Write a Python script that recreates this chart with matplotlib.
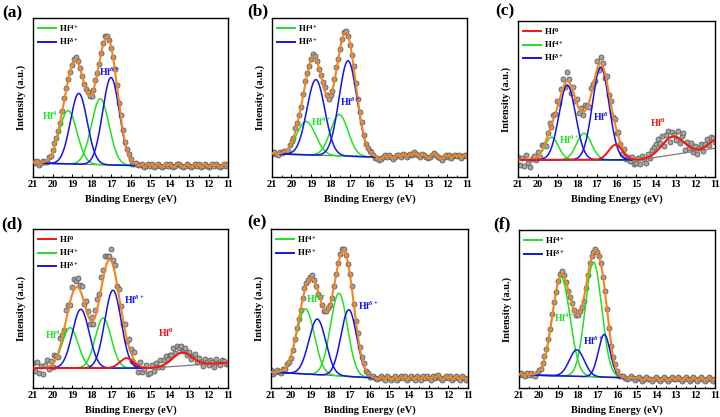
"""Hf 4f XPS fits, six samples (a)-(f), 2x3 grid."""
import matplotlib

matplotlib.use("Agg")
import matplotlib.pyplot as plt
from matplotlib.lines import Line2D
from matplotlib.ticker import MultipleLocator
import numpy as np

plt.rcParams["font.family"] = ["Liberation Serif", "DejaVu Serif"]
plt.rcParams["font.weight"] = "bold"
plt.rcParams["mathtext.fontset"] = "custom"
plt.rcParams["mathtext.rm"] = "Liberation Serif:bold"
plt.rcParams["mathtext.bf"] = "Liberation Serif:bold"
plt.rcParams["mathtext.it"] = "Liberation Serif:italic:bold"

GREEN = "#22e022"
BLUE = "#1414e8"
RED = "#f01414"
ORANGE = "#f5841f"
BG_GRAY = "#7a7a7a"
PT_FACE = "#a4a4a4"
PT_EDGE = "#5e5e5e"

LBL_0 = r"Hf$^{0}$"
LBL_4 = r"Hf$^{4+}$"
LBL_D = r"Hf$^{\delta+}$"

# measured energies: 21 -> 11 eV, 0.1 eV steps
E_START, E_STOP, E_STEP = 21.0, 11.0, 0.1

# ---- (a)
A_CENTERS = [19.2, 17.55, 18.65, 17.0]
A_HEIGHTS = [0.335, 0.415, 0.445, 0.55]
A_SIGMAS = [0.45, 0.45, 0.43, 0.43]
A_STATES = ["4+", "4+", "d", "d"]
A_BG_X = [21.0, 20.7, 15.8, 11.0]
A_BG_Y = [0.088, 0.087, 0.072, 0.072]
A_FIT = (20.7, 15.8)
A_RES = [1, 0, 1, -1, 0, 1, 0, -1, 1, 0,
         1, 2, 1, 0, -1, 0, 1, 1, 0, -1,
         0, 1, 2, 1, 0, -1, -1, 0, 1, 0,
         -1, 0, 1, 0, -1, 0, 1, 2, 1, 0,
         -1, 0, 1, 0, -1, 1, 0, -1, 0, 1,
         0, -1, 0, 1, 0, 0, 1, -1, 0, 1,
         0, 1, -1, 0, 1, 0, -1, 0, 1, 0,
         1, 0, -1, 0, 1, 1, 0, -1, 0, 1,
         0, -1, 0, 1, 0, 1, -1, 0, 1, 0,
         -1, 0, 1, 0, 1, 0, -1, 0, 1, 0, 1]
A_NOTES = [(20.55, 0.385, LBL_4, GREEN), (17.6, 0.66, LBL_D, BLUE)]

# ---- (b)
B_CENTERS = [19.25, 17.55, 18.75, 17.1]
B_HEIGHTS = [0.21, 0.26, 0.475, 0.60]
B_SIGMAS = [0.48, 0.45, 0.46, 0.46]
B_STATES = ["4+", "4+", "d", "d"]
B_BG_X = [21.0, 20.7, 15.6, 11.0]
B_BG_Y = [0.146, 0.145, 0.125, 0.13]
B_FIT = (20.7, 15.6)
B_RES = [0, 1, 0, -1, 1, 0, 1, 0, -1, 1,
         1, 0, 2, 1, 0, -1, 1, 2, 1, 0,
         1, 2, 1, 0, -1, 0, 1, 2, 0, -1,
         0, -1, 1, 2, 0, -1, 0, 1, 1, 0,
         -1, 0, 2, 1, 0, 1, 2, 0, -1, 0,
         0, 1, 0, -1, -1, -2, -1, 0, 1, 0,
         1, 0, -1, 0, 1, 1, 0, 2, 1, 0,
         1, 2, 1, 3, 2, 1, 0, 2, 1, 0,
         -1, 0, 1, 2, 1, 0, -1, -2, 0, 1,
         0, 1, -1, 0, 1, 0, 1, -1, 0, 1, 0]
B_NOTES = [(19.0, 0.35, LBL_4, GREEN), (17.5, 0.476, LBL_D, BLUE)]

# ---- (c)
C_CENTERS = [19.3, 17.65, 18.5, 16.8, 16.05, 13.15, 11.05]
C_HEIGHTS = [0.145, 0.17, 0.48, 0.595, 0.096, 0.117, 0.05]
C_SIGMAS = [0.35, 0.38, 0.42, 0.42, 0.35, 0.55, 0.3]
C_STATES = ["4+", "4+", "d", "d", "0", "0", "0"]
C_BG_X = [21.0, 14.8, 11.0]
C_BG_Y = [0.11, 0.11, 0.185]
C_FIT = (20.6, 15.2)
C_RES = [2, -3, 1, -4, 3, -2, -5, 0, 2, -1,
         3, -2, 4, 1, -3, 2, 5, -1, 3, 0,
         4, -2, 3, 5, -3, 6, 2, -4, 3, -2,
         3, -3, 2, -2, 4, 1, -3, 5, 2, -2,
         6, -3, 4, 2, -4, 3, -2, 1, -3, 2,
         -2, 3, -1, -4, 2, -3, 0, -2, 1, -3,
         -2, 1, -3, 2, 0, -3, 2, -1, 3, 4,
         5, 7, 3, 6, -2, 4, 5, -3, 3, 1,
         -2, 4, -3, 3, 6, -4, 2, -1, 3, -2,
         2, -3, 1, 3, -2, 2, 4, -1, 3, 2, -1]
C_NOTES = [(18.93, 0.238, LBL_4, GREEN), (17.2, 0.383, LBL_D, BLUE),
           (14.3, 0.345, LBL_0, RED)]

# ---- (d)
D_CENTERS = [19.1, 17.4, 18.55, 16.9, 16.2, 13.35]
D_HEIGHTS = [0.254, 0.315, 0.37, 0.49, 0.0625, 0.084]
D_SIGMAS = [0.41, 0.41, 0.43, 0.42, 0.35, 0.5]
D_STATES = ["4+", "4+", "d", "d", "0", "0"]
D_BG_X = [21.0, 15.0, 11.0]
D_BG_Y = [0.125, 0.125, 0.16]
D_FIT = (20.3, 15.2)
D_RES = [3, -2, 4, -3, 1, -4, 2, 5, -1, 3,
         -2, 4, 1, -3, 5, 2, -1, 6, 3, -2,
         5, 7, 4, 6, 3, 5, -2, 4, 2, -3,
         3, -2, 4, 6, 3, 7, 5, 8, 4, 2,
         7, 3, 5, -2, 4, 1, -3, 3, -2, 4,
         2, -3, 5, -2, -4, 3, -3, -1, 2, -4,
         -3, 2, -2, 3, 0, 4, -1, 3, 5, 2,
         4, 3, 6, 2, 5, 3, 4, 1, 3, -1,
         2, -2, 1, 3, -1, 2, 0, -2, 3, 1,
         -1, 2, 1, -2, 3, 0, -1, 2, 1, -1, 0]
D_NOTES = [(20.37, 0.333, LBL_4, GREEN), (16.33, 0.552, LBL_D, BLUE),
           (14.6, 0.348, LBL_0, RED)]

# ---- (e)
E_CENTERS = [19.25, 17.55, 18.65, 17.05]
E_HEIGHTS = [0.41, 0.52, 0.35, 0.42]
E_SIGMAS = [0.45, 0.43, 0.43, 0.40]
E_STATES = ["4+", "4+", "d", "d"]
E_BG_X = [21.0, 15.7, 11.0]
E_BG_Y = [0.10, 0.063, 0.063]
E_FIT = (21.0, 15.7)
E_RES = [1, -1, 0, 1, 0, -1, 1, 0, 1, 0,
         -1, 0, 1, 2, 1, 0, 1, 2, 1, 0,
         1, 2, 1, 0, -1, 1, 0, -1, 0, 1,
         0, -1, 0, 1, 1, 2, 2, 1, 0, -1,
         0, 1, 0, -1, 1, 0, 0, 1, -1, 0,
         -1, 0, 1, 0, -1, 0, 1, 0, -1, 1,
         0, -1, 0, 1, -1, 0, 1, 0, 1, -1,
         0, 1, 0, -1, 1, 0, -1, 1, 0, 1,
         0, -1, 1, 0, 1, 2, 0, -1, 0, 1,
         0, 1, -1, 0, 1, 0, -1, 1, 0, -1, 0]
E_NOTES = [(19.22, 0.5625, LBL_4, GREEN), (16.6, 0.517, LBL_D, BLUE)]

# ---- (f)
F_CENTERS = [18.85, 17.2, 18.05, 16.65]
F_HEIGHTS = [0.625, 0.725, 0.168, 0.27]
F_SIGMAS = [0.45, 0.42, 0.38, 0.30]
F_STATES = ["4+", "4+", "d", "d"]
F_BG_X = [21.0, 15.0, 14.8, 11.0]
F_BG_Y = [0.084, 0.063, 0.057, 0.057]
F_FIT = (20.3, 15.0)
F_RES = [0, 1, 0, -1, 1, 0, 1, 0, -1, 0,
         1, 0, 1, 2, 1, 1, 0, 1, 0, -1,
         0, 1, 2, 1, 0, -1, 0, 1, 0, -1,
         0, 1, 0, -1, 0, 1, 2, 1, 0, 1,
         0, 1, 2, 1, 2, 1, 0, -1, 0, 1,
         0, -1, 0, 1, 0, -1, 0, 1, 0, -1,
         0, 1, 0, -1, 0, 1, 0, 0, -1, 0,
         1, 0, -1, 0, 1, 0, -1, 0, 1, 0,
         0, 1, 0, -1, 0, 1, 0, -1, 0, 1,
         0, -1, 0, 1, 0, -1, 0, 1, 0, -1, 0]
F_NOTES = [(19.21, 0.442, LBL_4, GREEN), (17.75, 0.30, LBL_D, BLUE)]

PANELS = [
    ("(a)", A_CENTERS, A_HEIGHTS, A_SIGMAS, A_STATES, A_BG_X, A_BG_Y, A_FIT, A_RES, A_NOTES),
    ("(b)", B_CENTERS, B_HEIGHTS, B_SIGMAS, B_STATES, B_BG_X, B_BG_Y, B_FIT, B_RES, B_NOTES),
    ("(c)", C_CENTERS, C_HEIGHTS, C_SIGMAS, C_STATES, C_BG_X, C_BG_Y, C_FIT, C_RES, C_NOTES),
    ("(d)", D_CENTERS, D_HEIGHTS, D_SIGMAS, D_STATES, D_BG_X, D_BG_Y, D_FIT, D_RES, D_NOTES),
    ("(e)", E_CENTERS, E_HEIGHTS, E_SIGMAS, E_STATES, E_BG_X, E_BG_Y, E_FIT, E_RES, E_NOTES),
    ("(f)", F_CENTERS, F_HEIGHTS, F_SIGMAS, F_STATES, F_BG_X, F_BG_Y, F_FIT, F_RES, F_NOTES),
]

# axes boxes in pixels: left, right, top, bottom
BOXES = [(33, 228, 18, 177), (272, 467, 18, 177), (518, 715, 21, 177),
         (33, 228, 229, 388), (271, 468, 229, 388), (519, 715, 230, 388)]
# panel-tag anchors in pixels (left x, centre y)
TAG_POS = [(2, 13), (247, 11), (495, 11), (1, 224), (247, 222), (493, 224)]
W, H = 720, 417


def gauss(x, c, h, s):
    return h * np.exp(-((x - c) ** 2) / (2 * s * s))


def draw(ax, centers, heights, sigmas, states, bg_x, bg_y, fit, res, notes):
    x = np.linspace(E_START, E_STOP, 1001)
    bg = np.interp(x, bg_x[::-1], bg_y[::-1])
    in_fit = (x <= fit[0]) & (x >= fit[1])

    peaks = [gauss(x, c, h, s) for c, h, s in zip(centers, heights, sigmas)]
    model = bg + np.sum(peaks, axis=0)

    # observed points
    xo = np.arange(E_START, E_STOP - 0.01, -E_STEP)
    bgo = np.interp(xo, bg_x[::-1], bg_y[::-1])
    mo = bgo + np.sum([gauss(xo, c, h, s) for c, h, s in
                       zip(centers, heights, sigmas)], axis=0)
    yo = mo + 0.01 * np.asarray(res[:len(xo)])
    ax.plot(xo, yo, "o", ms=3.6, mfc=PT_FACE, mec=PT_EDGE, mew=0.6, zorder=2)

    ax.plot(x, bg, color=BG_GRAY, lw=0.9, zorder=3)

    has_zero = "0" in states
    for p, st in zip(peaks, states):
        if st == "0":
            continue
        col = GREEN if st == "4+" else BLUE
        ax.plot(x[in_fit], (bg + p)[in_fit], color=col, lw=1.1, zorder=4)

    if has_zero:
        env = model
    else:
        env = np.where(in_fit, model, np.interp(x, xo[::-1], yo[::-1]))
    ax.plot(x, env, color=ORANGE, lw=1.5, zorder=5)

    if has_zero:
        zero = bg + np.sum([p for p, st in zip(peaks, states) if st == "0"], axis=0)
        ax.plot(x, zero, color=RED, lw=1.4, zorder=6)

    for tx, ty, txt, col in notes:
        ax.text(tx, ty, txt, color=col, fontsize=7, fontweight="bold",
                ha="left", va="center", zorder=7)

    handles = []
    if has_zero:
        handles.append(Line2D([], [], color=RED, lw=1.4, label=LBL_0))
    handles.append(Line2D([], [], color=GREEN, lw=1.4, label=LBL_4))
    handles.append(Line2D([], [], color=BLUE, lw=1.4, label=LBL_D))
    ax.legend(handles=handles, loc="upper left", frameon=False, fontsize=6.5,
              handlelength=2.0, handletextpad=0.4, labelspacing=0.25,
              borderaxespad=0.3, borderpad=0.2)

    ax.set_xlim(21, 11)
    ax.set_ylim(0, 1)
    ax.xaxis.set_major_locator(MultipleLocator(1))
    ax.xaxis.set_minor_locator(MultipleLocator(0.5))
    ax.tick_params(axis="x", which="major", direction="in", length=2.5,
                   width=0.8, labelsize=7.5, pad=2)
    ax.tick_params(axis="x", which="minor", direction="in", length=1.5, width=0.6)
    ax.set_yticks([])
    ax.set_xticklabels([str(int(v)) if abs(v - round(v)) < 1e-6 else ""
                        for v in ax.get_xticks()])
    for sp in ax.spines.values():
        sp.set_linewidth(1.0)
    ax.set_xlabel("Binding Energy (eV)", fontsize=7.5, fontweight="bold", labelpad=4)
    ax.set_ylabel("Intensity (a.u.)", fontsize=7.5, fontweight="bold", labelpad=5)


def main():
    fig = plt.figure(figsize=(W / 100, H / 100), dpi=100)
    for (tag, *rest), (l, r, t, b), (tx, ty) in zip(PANELS, BOXES, TAG_POS):
        ax = fig.add_axes([l / W, 1 - b / H, (r - l) / W, (b - t) / H])
        draw(ax, *rest)
        fig.text(tx / W, 1 - ty / H, tag, fontsize=12.5,
                 fontweight="bold", ha="left", va="center")
    fig.savefig("out.png", dpi=100)
    plt.close(fig)


if __name__ == "__main__":
    main()
